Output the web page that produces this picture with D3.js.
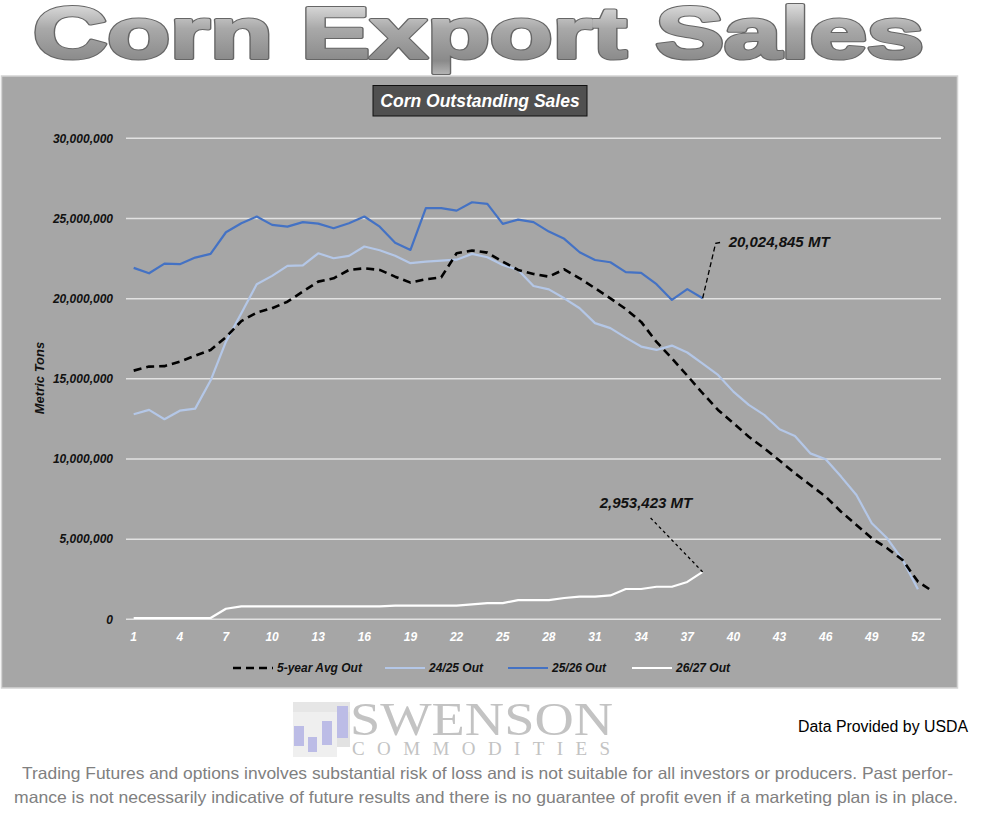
<!DOCTYPE html>
<html>
<head>
<meta charset="utf-8">
<script src="https://cdn.jsdelivr.net/npm/d3@7"></script>
<style>
  body { margin: 0; background: #fff; }
  svg { display: block; }
</style>
</head>
<body>
<div class="chart"></div>
<script>

let width = 986
let height = 831

// week numbers on the x axis
let weeks = [1, 2, 3, 4, 5, 6, 7, 8, 9, 10, 11, 12, 13, 14, 15, 16, 17, 18, 19, 20,
    21, 22, 23, 24, 25, 26, 27, 28, 29, 30, 31, 32, 33, 34, 35, 36, 37, 38, 39, 40,
    41, 42, 43, 44, 45, 46, 47, 48, 49, 50, 51, 52, 53]
let tickWeeks = [1, 4, 7, 10, 13, 16, 19, 22, 25, 28, 31, 34, 37, 40, 43, 46, 49, 52]
let yTicks = [0, 5, 10, 15, 20, 25, 30]   // million MT

// outstanding sales, million metric tons
let avgOut = [15.51, 15.76, 15.79, 16.07, 16.44, 16.80, 17.60, 18.60, 19.13, 19.40,
    19.81, 20.44, 21.06, 21.27, 21.79, 21.89, 21.79, 21.37, 21.00, 21.21,
    21.33, 22.83, 23.00, 22.87, 22.31, 21.79, 21.54, 21.37, 21.83, 21.27,
    20.65, 20.02, 19.35, 18.55, 17.30, 16.28, 15.20, 14.10, 13.06, 12.23,
    11.39, 10.67, 9.90, 9.11, 8.38, 7.65, 6.71, 5.88, 5.05, 4.43,
    3.70, 2.35, 1.72]
let out2425 = [12.79, 13.06, 12.48, 13.01, 13.14, 14.89, 17.32, 19.09, 20.90, 21.42,
    22.04, 22.08, 22.83, 22.52, 22.67, 23.25, 23.02, 22.67, 22.21, 22.31,
    22.37, 22.43, 22.79, 22.58, 22.10, 21.79, 20.79, 20.58, 20.02, 19.40,
    18.47, 18.16, 17.57, 17.01, 16.80, 17.07, 16.64, 15.95, 15.24, 14.20,
    13.37, 12.75, 11.85, 11.43, 10.35, 9.98, 8.90, 7.75, 5.99, 5.05,
    3.70, 1.87]
let out2526 = [21.92, 21.58, 22.18, 22.15, 22.56, 22.79, 24.14, 24.70, 25.12, 24.60,
    24.49, 24.77, 24.68, 24.39, 24.70, 25.12, 24.49, 23.49, 23.04, 25.64,
    25.64, 25.49, 26.01, 25.91, 24.66, 24.93, 24.77, 24.18, 23.73, 22.89,
    22.41, 22.27, 21.65, 21.61, 20.90, 19.92, 20.59, 20.024845]
let out2627 = [0.08, 0.08, 0.08, 0.08, 0.08, 0.08, 0.66, 0.81, 0.81, 0.81,
    0.81, 0.81, 0.81, 0.81, 0.81, 0.81, 0.81, 0.85, 0.85, 0.85,
    0.85, 0.85, 0.93, 1.01, 1.01, 1.20, 1.20, 1.20, 1.33, 1.41,
    1.41, 1.49, 1.89, 1.89, 2.03, 2.03, 2.33, 2.953423]

let seriesNames = ['5-year Avg Out', '24/25 Out', '25/26 Out', '26/27 Out']
let seriesColors = ['#000000', '#b4c7e7', '#4472c4', '#ffffff']
let seriesData = [avgOut, out2425, out2526, out2627]

let font = "'Liberation Sans', Arial, sans-serif"

let x = d3.scalePoint()
    .domain(weeks)
    .range([126, 941])
    .padding(0.5)

let y = d3.scaleLinear()
    .domain([0, 30])
    .range([619.3, 138.3])

let fmt = d3.format(",")

const svg = d3.select(".chart").append("svg")
    .attr("width", width)
    .attr("height", height)

// gradient for the big heading
let grad = svg.append("defs").append("linearGradient")
    .attr("id", "metal")
    .attr("x1", 0).attr("y1", 0).attr("x2", 0).attr("y2", 1)
grad.append("stop").attr("offset", "0%").attr("stop-color", "#f4f4f4")
grad.append("stop").attr("offset", "45%").attr("stop-color", "#a9a9a9")
grad.append("stop").attr("offset", "85%").attr("stop-color", "#8a8a8a")
grad.append("stop").attr("offset", "100%").attr("stop-color", "#b0b0b0")

// heading drawn twice: dark outline underneath, fattened gradient glyphs on top
let heading = svg.append("g")
    .attr("font-family", font)
    .attr("font-weight", "bold")
    .attr("font-size", 73)
heading.selectAll("text")
    .data([["#666", 4.2], ["url(#metal)", 2.2]])
    .join("text")
    .attr("x", 33)
    .attr("y", 58)
    .attr("textLength", 891)
    .attr("lengthAdjust", "spacingAndGlyphs")
    .attr("fill", "url(#metal)")
    .attr("stroke", d => d[0])
    .attr("stroke-width", d => d[1])
    .attr("stroke-linejoin", "round")
    .text("Corn Export Sales")

// chart panel
svg.append("rect")
    .attr("x", 1.5).attr("y", 76)
    .attr("width", 956).attr("height", 612)
    .attr("fill", "#a6a6a6")
    .attr("stroke", "#d4d4d4")
    .attr("stroke-width", 1.5)

// chart title box
svg.append("rect")
    .attr("x", 373).attr("y", 85.5)
    .attr("width", 214).attr("height", 30.5)
    .attr("fill", "#505050")
    .attr("stroke", "#111")
    .attr("stroke-width", 1)
svg.append("text")
    .attr("x", 480).attr("y", 107)
    .attr("text-anchor", "middle")
    .attr("font-family", font)
    .attr("font-weight", "bold")
    .attr("font-style", "italic")
    .attr("font-size", 17.5)
    .attr("fill", "#fff")
    .text("Corn Outstanding Sales")

// grid + y labels
let yAxis = svg.append("g")
yAxis.selectAll("line")
    .data(yTicks)
    .join("line")
    .attr("x1", 126).attr("x2", 941)
    .attr("y1", d => y(d)).attr("y2", d => y(d))
    .attr("stroke", "#e2e2e2")
    .attr("stroke-width", 1.5)
yAxis.selectAll("text")
    .data(yTicks)
    .join("text")
    .attr("x", 113)
    .attr("y", d => y(d))
    .attr("dy", "0.35em")
    .attr("text-anchor", "end")
    .attr("font-family", font)
    .attr("font-weight", "bold")
    .attr("font-style", "italic")
    .attr("font-size", 12)
    .attr("fill", "#111")
    .text(d => fmt(d * 1e6))

svg.append("text")
    .attr("transform", "translate(44,378) rotate(-90)")
    .attr("text-anchor", "middle")
    .attr("font-family", font)
    .attr("font-weight", "bold")
    .attr("font-style", "italic")
    .attr("font-size", 13)
    .attr("fill", "#111")
    .text("Metric Tons")

// x labels
svg.append("g").selectAll("text")
    .data(tickWeeks)
    .join("text")
    .attr("x", d => x(d))
    .attr("y", 641)
    .attr("text-anchor", "middle")
    .attr("font-family", font)
    .attr("font-weight", "bold")
    .attr("font-style", "italic")
    .attr("font-size", 12)
    .attr("fill", "#fff")
    .text(d => d)

let line = d3.line()
    .x((d, i) => x(weeks[i]))
    .y(d => y(d))

svg.append("g")
    .selectAll("path")
    .data([1, 2, 3, 0])
    .join("path")
    .attr("d", i => line(seriesData[i]))
    .attr("fill", "none")
    .attr("stroke", i => seriesColors[i])
    .attr("stroke-width", i => i == 0 ? 2.6 : 2.2)
    .attr("stroke-dasharray", i => i == 0 ? "8,5" : null)
    .attr("stroke-linejoin", "round")

// data callouts
let endBlue = [x(weeks[out2526.length - 1]), y(out2526[out2526.length - 1])]
svg.append("path")
    .attr("d", `M${endBlue[0]},${endBlue[1]} L${endBlue[0] + 13},${endBlue[1] - 55} L${endBlue[0] + 19},${endBlue[1] - 56}`)
    .attr("fill", "none")
    .attr("stroke", "#000")
    .attr("stroke-width", 1.3)
    .attr("stroke-dasharray", "5,3")
svg.append("text")
    .attr("x", endBlue[0] + 26)
    .attr("y", endBlue[1] - 51)
    .attr("font-family", font)
    .attr("font-weight", "bold")
    .attr("font-style", "italic")
    .attr("font-size", 15)
    .attr("fill", "#111")
    .text(fmt(Math.round(out2526[out2526.length - 1] * 1e6)) + " MT")

let endWhite = [x(weeks[out2627.length - 1]), y(out2627[out2627.length - 1])]
svg.append("path")
    .attr("d", `M${endWhite[0]},${endWhite[1]} L${endWhite[0] - 53},${endWhite[1] - 55}`)
    .attr("fill", "none")
    .attr("stroke", "#000")
    .attr("stroke-width", 1.3)
    .attr("stroke-dasharray", "3,3")
svg.append("text")
    .attr("x", endWhite[0] - 103)
    .attr("y", endWhite[1] - 64)
    .attr("font-family", font)
    .attr("font-weight", "bold")
    .attr("font-style", "italic")
    .attr("font-size", 15)
    .attr("fill", "#111")
    .text(fmt(Math.round(out2627[out2627.length - 1] * 1e6)) + " MT")

// legend
let legendX = [233, 385, 508, 632]
let legend = svg.append("g")
    .selectAll("g")
    .data(seriesNames)
    .join("g")
    .attr("transform", (d, i) => `translate(${legendX[i]},668)`)
legend.append("line")
    .attr("x1", 0).attr("x2", 40)
    .attr("stroke", (d, i) => seriesColors[i])
    .attr("stroke-width", (d, i) => i == 0 ? 2.6 : 2.2)
    .attr("stroke-dasharray", (d, i) => i == 0 ? "8,5" : null)
legend.append("text")
    .attr("x", 44)
    .attr("dy", "0.35em")
    .attr("font-family", font)
    .attr("font-weight", "bold")
    .attr("font-style", "italic")
    .attr("font-size", 12)
    .attr("fill", "#111")
    .text(d => d)

// logo
let logo = svg.append("g")
logo.append("rect").attr("x", 293).attr("y", 702).attr("width", 57).attr("height", 10).attr("fill", "#e6e6e6")
logo.append("rect").attr("x", 293).attr("y", 712).attr("width", 44).attr("height", 45).attr("fill", "#efefef")
logo.append("rect").attr("x", 337).attr("y", 712).attr("width", 13).attr("height", 35).attr("fill", "#e2e2e2")
let candles = [[294, 726, 10, 20], [308, 737, 9, 15], [322, 721, 10, 24], [337, 706, 11, 32]]
logo.selectAll(".candle")
    .data(candles)
    .join("rect")
    .attr("x", d => d[0]).attr("y", d => d[1])
    .attr("width", d => d[2]).attr("height", d => d[3])
    .attr("fill", "#bcbce6")
logo.append("text")
    .attr("x", 350).attr("y", 735)
    .attr("textLength", 263)
    .attr("lengthAdjust", "spacingAndGlyphs")
    .attr("font-family", "'Liberation Serif', 'Times New Roman', serif")
    .attr("font-size", 46)
    .attr("fill", "#c3c3c3")
    .text("SWENSON")
logo.append("text")
    .attr("x", 352).attr("y", 755)
    .attr("textLength", 258)
    .attr("font-family", "'Liberation Serif', 'Times New Roman', serif")
    .attr("font-size", 19)
    .attr("fill", "#c3c3c3")
    .text("COMMODITIES")

svg.append("text")
    .attr("x", 798).attr("y", 732)
    .attr("textLength", 170)
    .attr("lengthAdjust", "spacingAndGlyphs")
    .attr("font-family", font)
    .attr("font-size", 16)
    .attr("fill", "#000")
    .text("Data Provided by USDA")

let disclaimer = [
    "Trading Futures and options involves substantial risk of loss and is not suitable for all investors or producers. Past perfor-",
    "mance is not necessarily indicative of future results and there is no guarantee of profit even if a marketing plan is in place."
]
let discX = [[22, 931], [14, 944]]
svg.append("g").selectAll("text")
    .data(disclaimer)
    .join("text")
    .attr("x", (d, i) => discX[i][0])
    .attr("y", (d, i) => 779 + i * 24)
    .attr("textLength", (d, i) => discX[i][1])
    .attr("lengthAdjust", "spacingAndGlyphs")
    .attr("font-family", font)
    .attr("font-size", 16.5)
    .attr("fill", "#808080")
    .text(d => d)

</script>
</body>
</html>
